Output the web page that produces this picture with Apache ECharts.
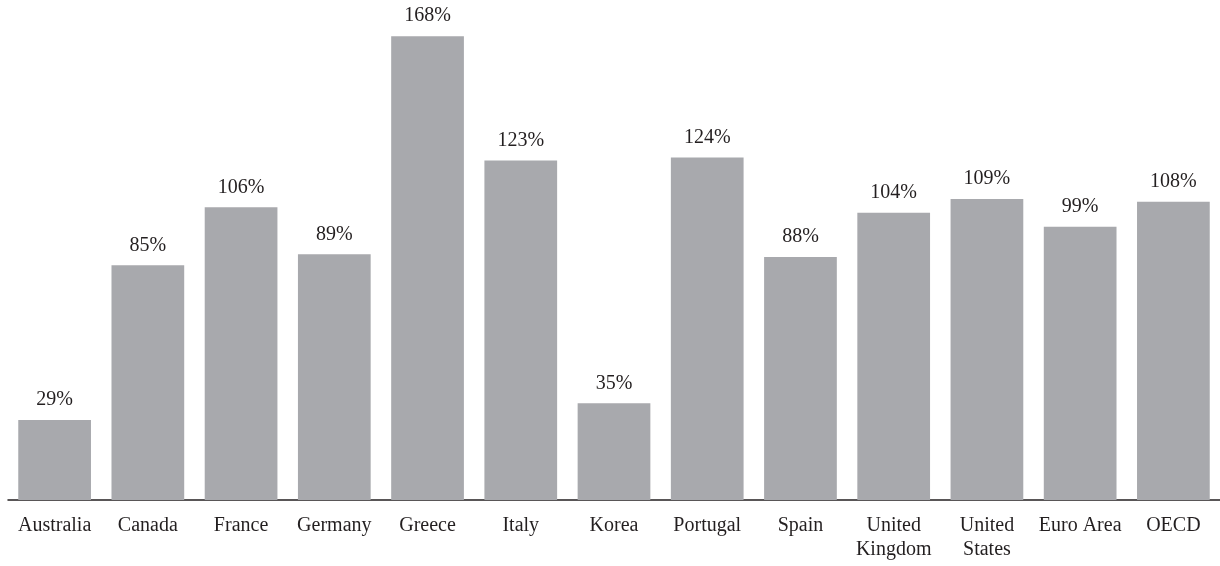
<!DOCTYPE html>
<html>
<head>
<meta charset="utf-8">
<script src="https://cdn.jsdelivr.net/npm/echarts@6/dist/echarts.min.js"></script>
<style>
  html, body { margin: 0; padding: 0; background: #ffffff; }
  #chart { width: 1220px; height: 566px; }
</style>
</head>
<body>
<div id="chart"></div>
<script>
// Country / area names shown under each bar
const categories = [
  'Australia', 'Canada', 'France', 'Germany', 'Greece', 'Italy', 'Korea',
  'Portugal', 'Spain', 'United\nKingdom', 'United\nStates', 'Euro Area', 'OECD'
];
// Percent values for each bar
const values = [29, 85, 106, 89, 168, 123, 35, 124, 88, 104, 109, 99, 108];

const chart = echarts.init(document.getElementById('chart'), null, { renderer: 'canvas' });
const font = '"Liberation Serif", "Times New Roman", serif';

chart.setOption({
  animation: false,
  backgroundColor: '#ffffff',
  grid: { left: 8, right: -2, top: 3, bottom: 66, containLabel: false },
  xAxis: {
    type: 'category',
    data: categories,
    axisLine: { show: true, lineStyle: { color: '#231f20', width: 1.5 } },
    axisTick: { show: false },
    axisLabel: {
      interval: 0,
      margin: 14,
      color: '#231f20',
      fontFamily: font,
      fontSize: 20,
      lineHeight: 24
    }
  },
  yAxis: {
    type: 'value',
    min: 0,
    max: 180,
    show: false,
    splitLine: { show: false }
  },
  series: [{
    type: 'bar',
    data: values,
    barCategoryGap: '22%',
    itemStyle: { color: '#a8a9ad' },
    label: {
      show: true,
      position: 'top',
      distance: 10,
      formatter: '{c}%',
      color: '#231f20',
      fontFamily: font,
      fontSize: 20
    }
  }]
});
</script>
</body>
</html>
